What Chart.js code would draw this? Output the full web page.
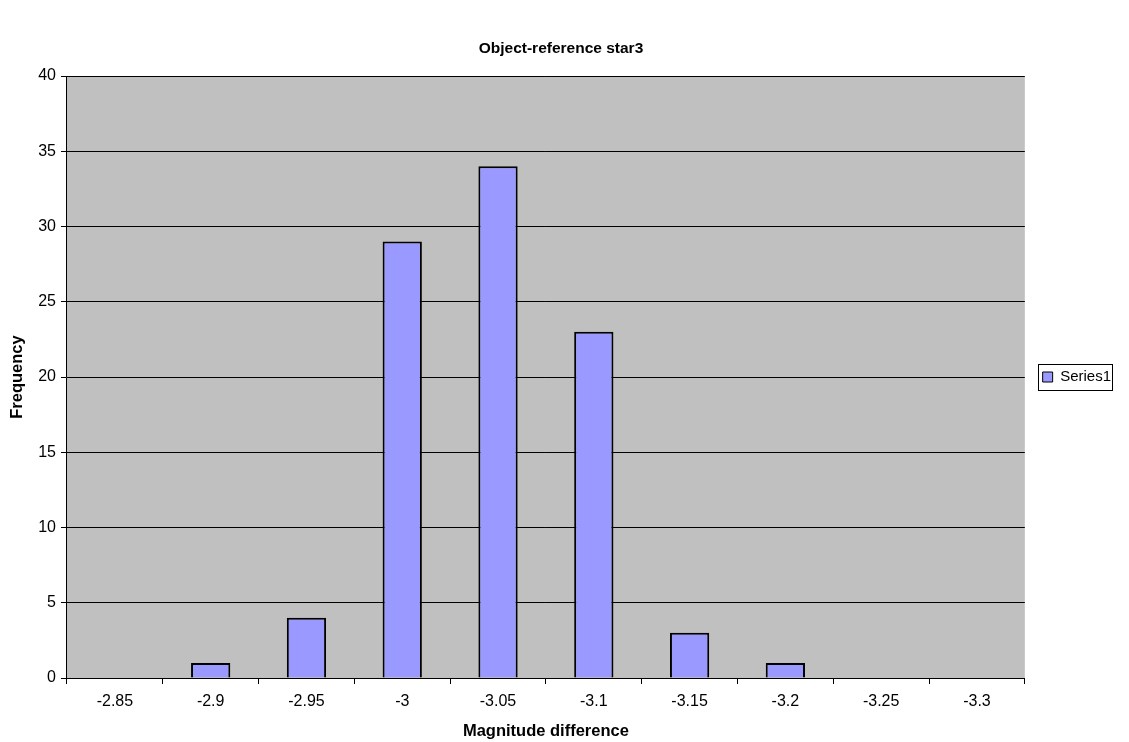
<!DOCTYPE html>
<html>
<head>
<meta charset="utf-8">
<title>Object-reference star3</title>
<script src="https://cdn.jsdelivr.net/npm/chart.js@4/dist/chart.umd.min.js"></script>
<style>
  html, body { margin: 0; padding: 0; background: #ffffff; }
  #wrap { width: 1129px; height: 742px; }
</style>
</head>
<body>
<div id="wrap"><canvas id="c" width="1129" height="742"></canvas></div>
<script>
// Histogram bins (magnitude difference) and their counts
const categories = ['-2.85', '-2.9', '-2.95', '-3', '-3.05', '-3.1', '-3.15', '-3.2', '-3.25', '-3.3'];
const frequency = [0, 1, 4, 29, 34, 23, 3, 1, 0, 0];
const yTicks = [0, 5, 10, 15, 20, 25, 30, 35, 40];

const FONT = 'Arial, "Liberation Sans", sans-serif';

// Grey plot background plus a frame around the legend
const plotDecor = {
  id: 'plotDecor',
  beforeDraw(chart) {
    const { ctx, chartArea: a } = chart;
    ctx.save();
    ctx.fillStyle = '#c0c0c0';
    ctx.fillRect(a.left, a.top, a.right - a.left, a.bottom - a.top);
    ctx.restore();
  },
  afterDraw(chart) {
    const lg = chart.legend;
    if (!lg || !lg.legendHitBoxes || !lg.legendHitBoxes.length) return;
    const hb = lg.legendHitBoxes[0];
    const { ctx } = chart;
    ctx.save();
    ctx.strokeStyle = '#000000';
    ctx.lineWidth = 1;
    ctx.strokeRect(Math.round(hb.left - 5) + 0.5, Math.round(hb.top - 6) + 0.5,
                   Math.round(hb.width + 6), Math.round(hb.height + 11));
    ctx.restore();
  }
};

new Chart(document.getElementById('c'), {
  type: 'bar',
  data: {
    labels: categories,
    datasets: [{
      label: 'Series1',
      data: frequency,
      backgroundColor: '#9999ff',
      borderColor: '#000000',
      borderWidth: 2,
      barPercentage: 0.41,
      categoryPercentage: 1.0
    }]
  },
  options: {
    responsive: false,
    animation: false,
    devicePixelRatio: 1,
    layout: { padding: { left: 1, right: 8, top: 0, bottom: 1 } },
    plugins: {
      title: {
        display: true,
        text: 'Object-reference star3',
        color: '#000000',
        font: { family: FONT, size: 15.5, weight: 'bold' },
        padding: { top: 39.5, bottom: 17.9 }
      },
      legend: {
        display: true,
        position: 'right',
        fullSize: false,
        labels: {
          color: '#000000',
          font: { family: FONT, size: 15 },
          boxWidth: 10,
          boxHeight: 10,
          padding: 17.8,
          generateLabels(chart) {
            const ds = chart.data.datasets[0];
            return [{
              text: ds.label,
              fillStyle: ds.backgroundColor,
              strokeStyle: '#000000',
              lineWidth: 1,
              datasetIndex: 0
            }];
          }
        }
      },
      tooltip: { enabled: false }
    },
    scales: {
      x: {
        offset: true,
        grid: {
          offset: true,
          drawOnChartArea: false,
          drawTicks: true,
          tickLength: 6,
          color: '#000000'
        },
        border: { display: true, color: '#000000', width: 1 },
        ticks: {
          color: '#000000',
          font: { family: FONT, size: 16 },
          padding: 8,
          maxRotation: 0,
          autoSkip: false
        },
        title: {
          display: true,
          text: 'Magnitude difference',
          color: '#000000',
          font: { family: FONT, size: 16.5, weight: 'bold' },
          padding: { top: 2, bottom: 0 }
        }
      },
      y: {
        min: 0,
        max: 40,
        afterBuildTicks(scale) { scale.ticks = yTicks.map(v => ({ value: v })); },
        grid: {
          color: '#000000',
          lineWidth: 1,
          drawTicks: true,
          tickLength: 6
        },
        border: { display: true, color: '#000000', width: 1 },
        ticks: {
          color: '#000000',
          font: { family: FONT, size: 16 },
          padding: 5
        },
        title: {
          display: true,
          text: 'Frequency',
          color: '#000000',
          font: { family: FONT, size: 16.5, weight: 'bold' },
          padding: { top: 7, bottom: 5.4 }
        }
      }
    }
  },
  plugins: [plotDecor]
});
</script>
</body>
</html>
